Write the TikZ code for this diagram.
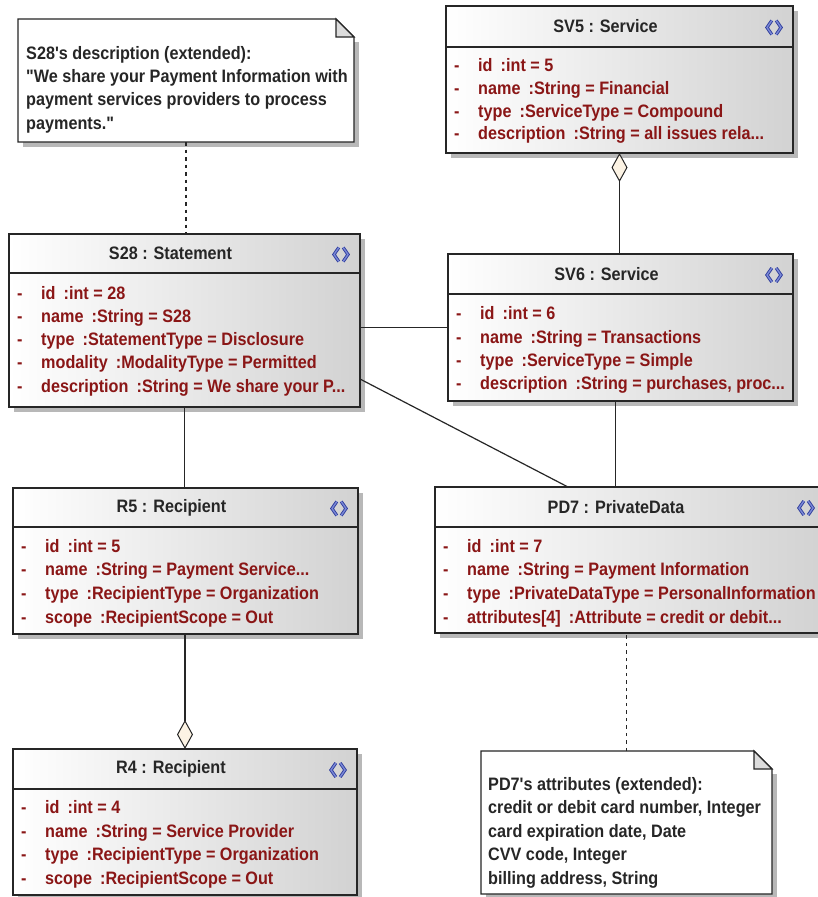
\documentclass[tikz,border=0pt]{standalone}
\usepackage{fontspec}
\setmainfont{Liberation Sans}[FakeStretch=0.9, Ligatures=TeXOff]
\usetikzlibrary{arrows.meta,calc}

\definecolor{attrred}{HTML}{8A1616}
\definecolor{iconblue}{HTML}{2E3C9C}
\definecolor{iconlight}{HTML}{7A88D6}
\definecolor{diamondfill}{HTML}{FCF3E4}
\definecolor{foldgray}{HTML}{DCDCDC}
\definecolor{shadowgray}{HTML}{B8B8B8}
\definecolor{bodygray}{HTML}{D2D2D2}

\tikzset{
  objframe/.style={draw=black!85, line width=1.2pt, inner sep=0pt, outer sep=0pt},
  framerule/.style={draw=black!85, line width=1.2pt},
  bodyshade/.style={left color=white, middle color=white, right color=bodygray},
  titletext/.style={font=\fontsize{18}{21}\selectfont\bfseries, text=black!85, inner sep=0pt},
  attrtext/.style={font=\fontsize{18}{21}\selectfont\bfseries, text=attrred, inner sep=0pt, anchor=base west},
  notetext/.style={font=\fontsize{18}{21}\selectfont\bfseries, text=black!85, inner sep=0pt, anchor=base west},
  iconstroke/.style={draw=iconblue, double=iconlight, double distance=1.4pt, line width=0.9pt, line join=miter},
  notestroke/.style={draw=black!85, line width=1.2pt},
  assoc/.style={draw=black!85, line width=1.2pt},
  dotline/.style={draw=black!85, line width=1.2pt, dash pattern=on 3.5pt off 4pt},
  aggr/.style={draw=black!85, line width=1.2pt,
    {Diamond[width=16pt, length=29pt, fill=diamondfill, line width=1pt]}-},
}

\newcommand\attgap{\hspace{0.45em}}

% element icon: two outlined chevrons
\newcommand\elemicon[2]{%
  \draw[iconstroke] ({#1-2.2},{#2-7}) -- ({#1-7},{#2}) -- ({#1-2.2},{#2+7});
  \draw[iconstroke] ({#1+2.2},{#2-7}) -- ({#1+7},{#2}) -- ({#1+2.2},{#2+7});
}

% object box: name, left, top, right, bottom, header rule, title
\newcommand\objbox[7]{%
  \fill[shadowgray] ({#2+5},{#3+5}) rectangle ({#4+5},{#5+5});
  \shade[bodyshade] (#2,#3) rectangle (#4,#5);
  \node[objframe, minimum width={(#4-#2)*1pt}, minimum height={(#5-#3)*1pt},
        anchor=north west] (#1) at (#2,#3) {};
  \draw[framerule] (#2,#6) -- (#4,#6);
  \node[titletext] at ({(#2+#4)/2-14},{(#3+#6)/2}) {#7};
  \elemicon{#4-19}{(#3+#6)/2+1}
}

% one attribute row: box left, row centre y, text
\newcommand\attrrow[3]{%
  \node[attrtext] at ({#1+8},{#2+6}) {-};
  \node[attrtext] at ({#1+32},{#2+6}) {#3};
}

% note with folded corner: name, left, top, right, bottom
\newcommand\notebox[5]{%
  \fill[shadowgray] ({#2+5},{#3+23}) rectangle ({#4+5},{#5+5});
  \node[inner sep=0pt, outer sep=0pt, minimum width={(#4-#2)*1pt},
        minimum height={(#5-#3)*1pt}, anchor=north west] (#1) at (#2,#3) {};
  \draw[notestroke, fill=white] (#1.north west) -- ($(#1.north east)+(-18,0)$)
     -- ($(#1.north east)+(0,18)$) -- (#1.south east) -- (#1.south west) -- cycle;
  \draw[notestroke, fill=foldgray] ($(#1.north east)+(-18,0)$)
     -- ($(#1.north east)+(-18,18)$) -- ($(#1.north east)+(0,18)$) -- cycle;
}

\begin{document}
\begin{tikzpicture}[x=1pt, y=-1pt]
\useasboundingbox (0,0) rectangle (818,897);
\clip (0,0) rectangle (818,897);
\fill[white] (0,0) rectangle (818,897);

% ---- notes ----
\notebox{n28}{18}{19}{354}{142}
\node[notetext] at (26,59) {S28's description (extended):};
\node[notetext] at (26,82) {"We share your Payment Information with};
\node[notetext] at (26,105) {payment services providers to process};
\node[notetext] at (26,129) {payments."};

\notebox{n7}{481}{751}{772}{894}
\node[notetext] at (488,790) {PD7's attributes (extended):};
\node[notetext] at (488,813) {credit or debit card number, Integer};
\node[notetext] at (488,837) {card expiration date, Date};
\node[notetext] at (488,860) {CVV code, Integer};
\node[notetext] at (488,884) {billing address, String};

% ---- objects ----
\objbox{s28}{9}{234}{360}{407}{273}{S28 : Statement}
\attrrow{9}{293}{id\attgap:int = 28}
\attrrow{9}{316}{name\attgap:String = S28}
\attrrow{9}{339}{type\attgap:StatementType = Disclosure}
\attrrow{9}{362}{modality\attgap:ModalityType = Permitted}
\attrrow{9}{386}{description\attgap:String = We share your P...}

\objbox{sv5}{446}{6}{793}{153}{47}{SV5 : Service}
\attrrow{446}{65}{id\attgap:int = 5}
\attrrow{446}{88}{name\attgap:String = Financial}
\attrrow{446}{111}{type\attgap:ServiceType = Compound}
\attrrow{446}{133}{description\attgap:String = all issues rela...}

\objbox{sv6}{448}{254}{793}{401}{294}{SV6 : Service}
\attrrow{448}{313}{id\attgap:int = 6}
\attrrow{448}{337}{name\attgap:String = Transactions}
\attrrow{448}{360}{type\attgap:ServiceType = Simple}
\attrrow{448}{383}{description\attgap:String = purchases, proc...}

\objbox{r5}{13}{488}{358}{634}{527}{R5 : Recipient}
\attrrow{13}{546}{id\attgap:int = 5}
\attrrow{13}{569}{name\attgap:String = Payment Service...}
\attrrow{13}{593}{type\attgap:RecipientType = Organization}
\attrrow{13}{617}{scope\attgap:RecipientScope = Out}

\objbox{pd7}{435}{487}{825}{633}{527}{PD7 : PrivateData}
\attrrow{435}{546}{id\attgap:int = 7}
\attrrow{435}{569}{name\attgap:String = Payment Information}
\attrrow{435}{593}{type\attgap:PrivateDataType = PersonalInformation}
\attrrow{435}{617}{attributes[4]\attgap:Attribute = credit or debit...}

\objbox{r4}{13}{749}{357}{895}{789}{R4 : Recipient}
\attrrow{13}{807}{id\attgap:int = 4}
\attrrow{13}{831}{name\attgap:String = Service Provider}
\attrrow{13}{854}{type\attgap:RecipientType = Organization}
\attrrow{13}{878}{scope\attgap:RecipientScope = Out}

% ---- connectors ----
\draw[dotline] (n28.south) -- (n28.south |- s28.north);
\draw[dotline] (n7.north) -- (n7.north |- pd7.south);
\draw[assoc] (sv6.west) -- (sv6.west -| s28.east);
\coordinate (s28diag) at ($(s28.south east)+(0,-28)$);
\coordinate (pd7diag) at ($(pd7.north west)+(133,0)$);
\draw[assoc] (s28diag) -- (pd7diag);
\draw[assoc] (s28.south) -- (s28.south |- r5.north);
\coordinate (sv6foot) at ($(sv6.south)+(-5,0)$);
\draw[assoc] (sv6foot) -- (sv6foot |- pd7.north);
\draw[aggr] (sv5.south) -- (sv5.south |- sv6.north);
\draw[aggr] (r4.north) -- (r4.north |- r5.south);
\end{tikzpicture}
\end{document}
